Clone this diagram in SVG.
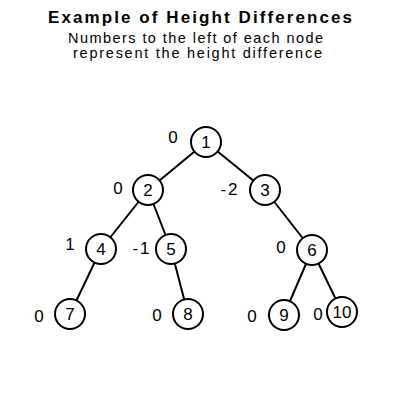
<svg xmlns="http://www.w3.org/2000/svg" width="400" height="400" viewBox="0 0 400 400">
<style>
.t{font-family:"Liberation Sans",Arial,sans-serif;fill:#000}
.title{font-size:17px;font-weight:bold}
.sub{font-size:14.5px}
.n circle{fill:#fff;stroke:#000;stroke-width:2}
.n text,.lbl{font-family:"Liberation Sans",Arial,sans-serif;font-size:17px;fill:#000}
.n text{text-anchor:middle}
.lbl{text-anchor:middle}
#edges line{stroke:#000;stroke-width:2}
</style>
<rect width="400" height="400" fill="#fff"/>
<text class="t title" x="48" y="23" textLength="304" lengthAdjust="spacing">Example of Height Differences</text>
<text class="t sub" x="68" y="43" textLength="255" lengthAdjust="spacing">Numbers to the left of each node</text>
<text class="t sub" x="73" y="58" textLength="249" lengthAdjust="spacing">represent the height difference</text>
<g id="edges">
<line x1="206" y1="142" x2="148" y2="190"/>
<line x1="206" y1="142" x2="265" y2="190"/>
<line x1="148" y1="190" x2="101" y2="249"/>
<line x1="148" y1="190" x2="171" y2="249"/>
<line x1="265" y1="190" x2="312" y2="250"/>
<line x1="101" y1="249" x2="70" y2="314"/>
<line x1="171" y1="249" x2="188" y2="314"/>
<line x1="312" y1="250" x2="284" y2="315"/>
<line x1="312" y1="250" x2="342" y2="312"/>
</g>
<g id="node1" class="n"><circle cx="206" cy="142" r="15"/><text x="206" y="148">1</text></g>
<g id="node2" class="n"><circle cx="148" cy="190" r="15"/><text x="148" y="196">2</text></g>
<g id="node3" class="n"><circle cx="265" cy="190" r="15"/><text x="265" y="196">3</text></g>
<g id="node4" class="n"><circle cx="101" cy="249" r="15"/><text x="101" y="255">4</text></g>
<g id="node5" class="n"><circle cx="171" cy="249" r="15"/><text x="171" y="255">5</text></g>
<g id="node6" class="n"><circle cx="312" cy="250" r="15"/><text x="312" y="256">6</text></g>
<g id="node7" class="n"><circle cx="70" cy="314" r="15"/><text x="70" y="320">7</text></g>
<g id="node8" class="n"><circle cx="188" cy="314" r="15"/><text x="188" y="320">8</text></g>
<g id="node9" class="n"><circle cx="284" cy="315" r="15"/><text x="284" y="321">9</text></g>
<g id="node10" class="n"><circle cx="342" cy="312" r="15"/><text x="342" y="318">10</text></g>
<g id="labels">
<text class="lbl" x="173" y="143">0</text>
<text class="lbl" x="118" y="194">0</text>
<text class="lbl" x="230" y="195" letter-spacing="2">-2</text>
<text class="lbl" x="70" y="250">1</text>
<text class="lbl" x="142" y="254" letter-spacing="2">-1</text>
<text class="lbl" x="281" y="253">0</text>
<text class="lbl" x="39" y="322">0</text>
<text class="lbl" x="157" y="321">0</text>
<text class="lbl" x="252" y="322">0</text>
<text class="lbl" x="318" y="320">0</text>
</g>
</svg>
